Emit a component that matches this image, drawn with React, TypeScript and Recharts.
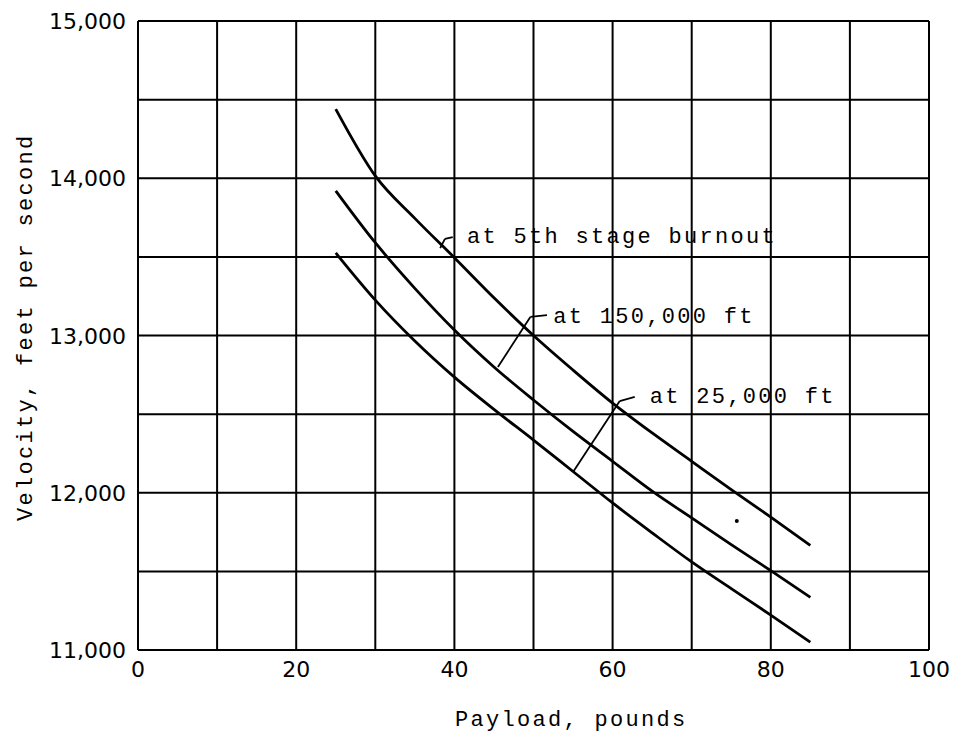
import React from "react";
import {
  LineChart,
  Line,
  XAxis,
  YAxis,
  CartesianGrid,
  ReferenceLine,
  ReferenceDot,
  Label,
} from "recharts";

// payload, pounds
const payload = [25, 30, 35, 40, 45, 50, 55, 60, 65, 70, 75, 80, 85];

// velocity, ft/s
const atBurnout = [14440, 14015, 13745, 13495, 13240, 13000, 12780, 12570, 12380, 12200, 12020, 11845, 11665];
const at150k = [13920, 13590, 13300, 13035, 12800, 12590, 12390, 12200, 12010, 11840, 11670, 11505, 11335];
const at25k = [13525, 13225, 12965, 12735, 12530, 12335, 12135, 11935, 11745, 11560, 11390, 11222, 11050];

const xTicks = [0, 10, 20, 30, 40, 50, 60, 70, 80, 90, 100];
const yTicks = [11000, 11500, 12000, 12500, 13000, 13500, 14000, 14500, 15000];

// leader lines: curve point -> corner -> end, and where the text starts
const notes = [
  {
    text: "at 5th stage burnout",
    pts: [
      { x: 38.2, y: 13556 },
      { x: 38.8, y: 13614 },
      { x: 39.8, y: 13626 },
    ],
    at: { x: 41.6, y: 13588 },
  },
  {
    text: "at 150,000 ft",
    pts: [
      { x: 45.5, y: 12800 },
      { x: 49.6, y: 13118 },
      { x: 51.7, y: 13130 },
    ],
    at: { x: 52.5, y: 13079 },
  },
  {
    text: "at 25,000 ft",
    pts: [
      { x: 55.0, y: 12132 },
      { x: 60.9, y: 12583 },
      { x: 62.8, y: 12609 },
    ],
    at: { x: 64.7, y: 12571 },
  },
];

// stray speck on the original sheet
const speck = { x: 75.7, y: 11820 };

const data = payload.map((p, i) => ({
  payload: p,
  burnout: atBurnout[i],
  alt150: at150k[i],
  alt25: at25k[i],
}));

const mono = "'Liberation Mono', 'DejaVu Sans Mono', monospace";
const nums = "'DejaVu Sans', sans-serif";

const fmt = (v: number) => v.toLocaleString("en-US");

function XTick(props: any) {
  const { x, y, payload: p } = props;
  if (p.value % 20 !== 0) return null;
  return (
    <text x={x} y={y + 27} textAnchor="middle" fontFamily={nums} fontSize={22} fill="#000">
      {p.value}
    </text>
  );
}

function YTick(props: any) {
  const { x, y, payload: p } = props;
  if (p.value % 1000 !== 0) return null;
  return (
    <text x={x - 12} y={y + 8} textAnchor="end" fontFamily={nums} fontSize={22} fill="#000">
      {fmt(p.value)}
    </text>
  );
}

const noteText = (text: string) => (props: any) => {
  const vb = props.viewBox;
  return (
    <text
      x={vb.x}
      y={vb.y}
      fontFamily={mono}
      fontSize={22}
      letterSpacing={2.3}
      fill="#000"
    >
      {text}
    </text>
  );
};

export default function App() {
  return (
    <div style={{ position: "absolute", left: 0, top: 0, background: "#fff" }}>
      <LineChart
        width={956}
        height={736}
        data={data}
        margin={{ top: 21, right: 27, bottom: 56, left: 58 }}
      >
        <CartesianGrid stroke="#000" strokeWidth={2} />
        <XAxis
          dataKey="payload"
          type="number"
          domain={[0, 100]}
          ticks={xTicks}
          interval={0}
          height={30}
          axisLine={{ stroke: "#000", strokeWidth: 2 }}
          tickLine={false}
          tickSize={0}
          tickMargin={0}
          tick={<XTick />}
        >
          <Label
            content={(p: any) => (
              <text
                x={p.viewBox.x + 317}
                y={p.viewBox.y + 76}
                fontFamily={mono}
                fontSize={22}
                letterSpacing={2.3}
                fill="#000"
              >
                Payload, pounds
              </text>
            )}
          />
        </XAxis>
        <YAxis
          type="number"
          domain={[11000, 15000]}
          ticks={yTicks}
          interval={0}
          width={80}
          axisLine={{ stroke: "#000", strokeWidth: 2 }}
          tickLine={false}
          tickSize={0}
          tickMargin={0}
          tick={<YTick />}
        >
          <Label
            content={() => (
              <text
                transform="rotate(-90)"
                x={-521}
                y={32}
                fontFamily={mono}
                fontSize={22}
                letterSpacing={2.3}
                fill="#000"
              >
                Velocity, feet per second
              </text>
            )}
          />
        </YAxis>

        <Line type="monotone" dataKey="burnout" stroke="#000" strokeWidth={2.8} dot={false} isAnimationActive={false} />
        <Line type="monotone" dataKey="alt150" stroke="#000" strokeWidth={2.8} dot={false} isAnimationActive={false} />
        <Line type="monotone" dataKey="alt25" stroke="#000" strokeWidth={2.8} dot={false} isAnimationActive={false} />

        {notes.map((n) => (
          <ReferenceLine
            key={n.text + "a"}
            segment={[n.pts[0], n.pts[1]]}
            stroke="#000"
            strokeWidth={1.8}
          />
        ))}
        {notes.map((n) => (
          <ReferenceLine
            key={n.text + "b"}
            segment={[n.pts[1], n.pts[2]]}
            stroke="#000"
            strokeWidth={1.8}
          />
        ))}
        {notes.map((n) => (
          <ReferenceDot
            key={n.text + "t"}
            x={n.at.x}
            y={n.at.y}
            r={0}
            stroke="none"
            fill="none"
            label={noteText(n.text)}
          />
        ))}
        <ReferenceDot x={speck.x} y={speck.y} r={2} fill="#000" stroke="none" />
      </LineChart>
    </div>
  );
}
